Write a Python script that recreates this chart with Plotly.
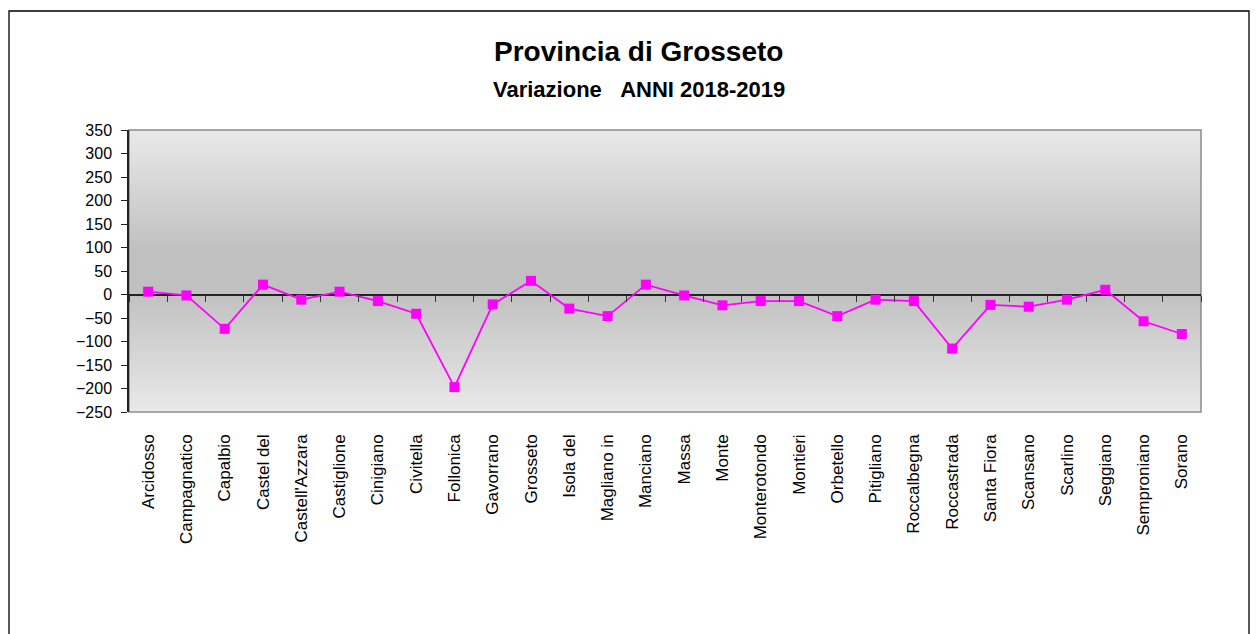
import plotly.graph_objects as go

comuni = ["Arcidosso", "Campagnatico", "Capalbio", "Castel del", "Castell'Azzara",
          "Castiglione", "Cinigiano", "Civitella", "Follonica", "Gavorrano",
          "Grosseto", "Isola del", "Magliano in", "Manciano", "Massa", "Monte",
          "Monterotondo", "Montieri", "Orbetello", "Pitigliano", "Roccalbegna",
          "Roccastrada", "Santa Fiora", "Scansano", "Scarlino", "Seggiano",
          "Semproniano", "Sorano"]
variazione = [6, -2, -73, 21, -11, 6, -14, -41, -197, -21,
              29, -30, -46, 21, -2, -23, -14, -14, -46, -11,
              -14, -115, -22, -26, -11, 10, -57, -84]
y_ticks = [-250, -200, -150, -100, -50, 0, 50, 100, 150, 200, 250, 300, 350]

titolo = "Provincia di Grosseto"
sottotitolo = "Variazione\u00a0\u00a0\u00a0ANNI 2018-2019"

FONT = "Liberation Sans, Arial, sans-serif"

fig = go.Figure()

fig.add_trace(go.Scatter(
    x=comuni, y=variazione, mode="lines+markers",
    line=dict(color="#ff00ff", width=1.8),
    marker=dict(symbol="square", size=10, color="#ff00ff"),
    showlegend=False, hoverinfo="x+y",
))
# invisible trace to carry the tick marks on the zero line
fig.add_trace(go.Scatter(
    x=comuni, y=variazione, mode="markers", xaxis="x2",
    marker=dict(opacity=0, size=1), showlegend=False, hoverinfo="skip",
))

# gradient background bands
shapes = []
n = 141
for i in range(n):
    y0 = i / n
    y1 = (i + 1) / n
    mid = (y0 + y1) / 2
    d = max(0.0, abs(mid - 0.5) - 0.07) / 0.43
    g = int(round(192 + 41 * d))
    col = f"rgb({g},{g},{g})"
    shapes.append(dict(type="rect", xref="paper", yref="paper", x0=0, x1=1,
                       y0=y0, y1=y1 + 0.002, fillcolor=col, line=dict(width=0),
                       layer="below"))
# plot border
shapes.append(dict(type="rect", xref="paper", yref="paper", x0=0, x1=1, y0=0, y1=1,
                   line=dict(color="#8c8c8c", width=1.5), layer="below"))
# outer chart border
shapes.append(dict(type="rect", xref="paper", yref="paper",
                   x0=(9 - 129) / 1072, x1=(1249 - 129) / 1072,
                   y0=-0.85, y1=(412 - 11) / 282,
                   line=dict(color="black", width=1.3), layer="above"))

fig.update_layout(
    width=1260, height=634,
    margin=dict(l=129, r=59, t=130, b=222),
    paper_bgcolor="white", plot_bgcolor="rgba(0,0,0,0)",
    font=dict(family=FONT, color="black", size=16),
    shapes=shapes,
    annotations=[
        dict(text=f"<b>{titolo}</b>", xref="paper", yref="paper", x=0.4757,
             y=(412 - 51) / 282, xanchor="center", yanchor="middle",
             showarrow=False, font=dict(size=28, family=FONT)),
        dict(text=f"<b>{sottotitolo}</b>", xref="paper", yref="paper", x=0.4757,
             y=(412 - 89) / 282, xanchor="center", yanchor="middle",
             showarrow=False, font=dict(size=22, family=FONT)),
    ],
    xaxis=dict(
        type="category", categoryorder="array", categoryarray=comuni,
        range=[-0.5, len(comuni) - 0.5],
        tickangle=-90, showgrid=False, showline=False, ticks="",
        tickfont=dict(size=17, family=FONT), ticklabelstandoff=18,
        zeroline=False,
    ),
    xaxis2=dict(
        type="category", categoryorder="array", categoryarray=comuni,
        range=[-0.5, len(comuni) - 0.5],
        overlaying="x", anchor="free", position=250 / 600, side="bottom",
        showticklabels=False, ticks="outside", tickson="boundaries",
        ticklen=6, tickwidth=1.3, tickcolor="#333333", showgrid=False,
        showline=False, zeroline=False,
    ),
    yaxis=dict(
        range=[-250, 350], tickmode="array", tickvals=y_ticks,
        showgrid=False, zeroline=True, zerolinecolor="#222222", zerolinewidth=1.5,
        showline=True, linecolor="#222222", linewidth=1.5,
        ticks="outside", ticklen=6, tickcolor="#222222", tickwidth=1.3,
        tickfont=dict(size=16, family=FONT), ticklabelstandoff=6,
    ),
)

fig.write_html("out.html", config={"displayModeBar": False},
               post_script="document.body.style.margin='0px';document.body.style.overflow='hidden';")
